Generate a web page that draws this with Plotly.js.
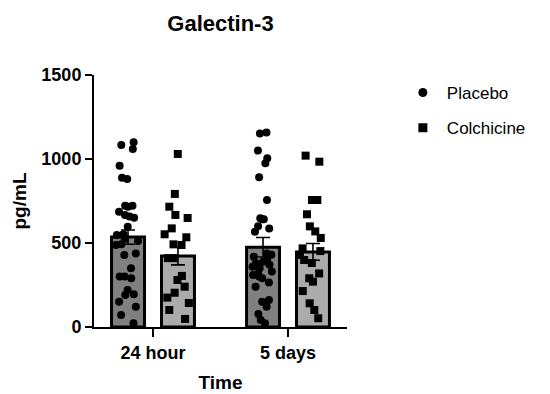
<!DOCTYPE html>
<html>
<head>
<meta charset="utf-8">
<script src="https://cdn.plot.ly/plotly-3.0.1.min.js"></script>
<style>html,body{margin:0;padding:0;background:#fff;}#chart{width:550px;height:394px;}</style>
</head>
<body>
<div id="chart"></div>
<script>
// ---- data ----
const timepoints = ['24 hour', '5 days'];
const seriesNames = ['Placebo', 'Colchicine'];

const placeboMean = [535, 475];
const placeboSEM = [42, 58];
const colchicineMean = [423, 447];
const colchicineSEM = [53, 50];

const placebo24h = [1099, 1083, 1060, 960, 889, 881, 722, 722, 716, 686, 667, 657, 651, 597,
  552, 548, 524, 512, 492, 488, 438, 428, 349, 300, 300, 290, 220, 195, 190, 150, 121, 71, 22];
const placebo5d = [1157, 1152, 1050, 1004, 974, 891, 756, 647, 641, 641, 599, 587, 567,
  438, 430, 418, 400, 389, 379, 370, 359, 349, 330, 319, 310, 300, 290, 265, 240, 161, 150, 120, 77, 42, 22];
const colchicine24h = [1030, 792, 716, 667, 649, 587, 552, 534, 492, 488, 410, 410, 304, 280,
  240, 204, 175, 143, 101, 48];
const colchicine5d = [1020, 984, 756, 756, 671, 599, 569, 530, 468, 452, 429, 399, 381, 319,
  290, 270, 214, 141, 101, 52];

// ---- styles ----
const barColors = ['#808080', '#ababab'];
const symbols = ['circle', 'square'];
const fontFam = 'Liberation Sans, Arial, sans-serif';

function catX(a, b) {
  return a.map(() => timepoints[0]).concat(b.map(() => timepoints[1]));
}

const traces = [];
const means = [placeboMean, colchicineMean];
const sems = [placeboSEM, colchicineSEM];
const pts = [[placebo24h, placebo5d], [colchicine24h, colchicine5d]];

for (let i = 0; i < 2; i++) {
  traces.push({
    type: 'bar', x: timepoints, y: means[i], name: seriesNames[i], showlegend: false,
    marker: {color: barColors[i], line: {color: '#000', width: 3}},
    error_y: {type: 'data', array: sems[i], visible: true, color: '#000', thickness: 1.6, width: 7},
    hoverinfo: 'skip'
  });
}
for (let i = 0; i < 2; i++) {
  traces.push({
    type: 'box', x: catX(pts[i][0], pts[i][1]), y: pts[i][0].concat(pts[i][1]),
    name: seriesNames[i], showlegend: false,
    boxpoints: 'all', jitter: 0.85, pointpos: 0,
    fillcolor: 'rgba(0,0,0,0)', line: {color: 'rgba(0,0,0,0)', width: 0},
    marker: {color: '#000', size: 8, symbol: symbols[i], line: {width: 0}},
    hoverinfo: 'skip'
  });
}
for (let i = 0; i < 2; i++) {
  traces.push({
    type: 'scatter', mode: 'markers', x: [null], y: [null], name: seriesNames[i],
    marker: {color: '#000', size: 9, symbol: symbols[i]}, legendgroup: 'g' + i
  });
}

const layout = {
  width: 550, height: 394,
  margin: {l: 94, r: 203, t: 75, b: 67},
  paper_bgcolor: '#fff', plot_bgcolor: '#fff',
  font: {family: fontFam, color: '#000'},
  title: {text: 'Galectin-3', font: {family: fontFam, size: 22, weight: 'bold'},
    xref: 'paper', x: 0.5, xanchor: 'center', yref: 'container', y: 0.94, yanchor: 'middle'},
  barmode: 'group', bargap: 0.26, bargroupgap: 0.34,
  boxmode: 'group', boxgap: 0.26, boxgroupgap: 0.34,
  xaxis: {
    type: 'category', range: [-0.437, 1.437],
    showline: true, linecolor: '#000', linewidth: 2,
    ticks: 'outside', ticklen: 8, tickwidth: 2, tickcolor: '#000',
    tickfont: {family: fontFam, size: 18, weight: 'bold'},
    showgrid: false, zeroline: false,
    title: {text: 'Time', font: {family: fontFam, size: 19, weight: 'bold'}, standoff: 14}
  },
  yaxis: {
    range: [0, 1500], tickvals: [0, 500, 1000, 1500],
    showline: true, linecolor: '#000', linewidth: 2,
    ticks: 'outside', ticklen: 7, tickwidth: 2, tickcolor: '#000',
    tickfont: {family: fontFam, size: 18, weight: 'bold'},
    showgrid: false, zeroline: false,
    title: {text: 'pg/mL', font: {family: fontFam, size: 19, weight: 'bold'}, standoff: 10}
  },
  legend: {
    x: 1.205, xanchor: 'left', y: 1.0, yanchor: 'top',
    font: {family: fontFam, size: 17}, tracegroupgap: 10, traceorder: 'grouped',
    itemwidth: 38, bgcolor: 'rgba(0,0,0,0)'
  },
  showlegend: true
};

Plotly.newPlot('chart', traces, layout, {staticPlot: true, displayModeBar: false});
</script>
</body>
</html>
